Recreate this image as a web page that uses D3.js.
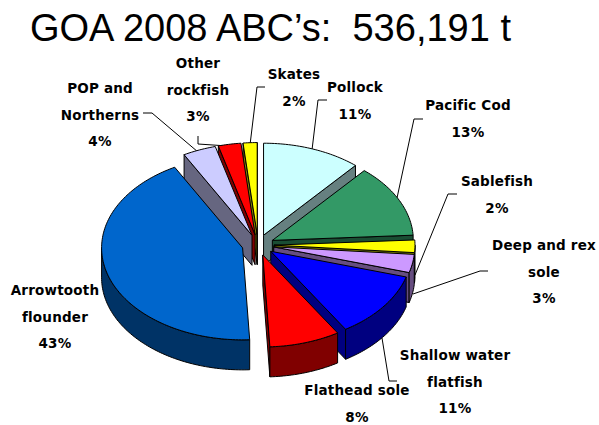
<!DOCTYPE html>
<html>
<head>
<meta charset="utf-8">
<script src="https://cdn.jsdelivr.net/npm/d3@7"></script>
<style>
html, body { margin: 0; padding: 0; background: #fff; overflow: hidden; }
</style>
</head>
<body>
<div id="chart"></div>
<script>
const titleText = "GOA 2008 ABC\u2019s:  536,191 t";
const categories = ["Pollock", "Pacific Cod", "Sablefish", "Deep and rex sole", "Shallow water flatfish",
    "Flathead sole", "Arrowtooth flounder", "POP and Northerns", "Other rockfish", "Skates"];
const shares = [11.3, 12.8, 2.2, 3.2, 11.6, 8.1, 42.8, 3.8, 2.6, 1.6];
const percentLabels = ["11%", "13%", "2%", "3%", "11%", "8%", "43%", "4%", "3%", "2%"];
const labelLines = [["Pollock"], ["Pacific Cod"], ["Sablefish"], ["Deep and rex", "sole"], ["Shallow water", "flatfish"],
    ["Flathead sole"], ["Arrowtooth", "flounder"], ["POP and", "Northerns"], ["Other", "rockfish"], ["Skates"]];

// layout, separate from the values above
const colors = ["#ccffff", "#339966", "#ffff00", "#cc99ff", "#0000ff", "#ff0000", "#0066cc", "#ccccff", "#ff0000", "#ffff00"];
const labelPos = [[355, 92], [468, 110], [497, 186], [544, 250], [455, 360], [357, 395], [55, 295], [100, 93], [198, 68], [294, 79]];
const leaders = [
    [[327, 100], [318, 100], [312, 150]],
    [[423, 119], [414, 119], [397, 198]],
    [[457, 194], [448, 194], [415, 275]],
    [[488, 271], [480, 271], [413, 294]],
    [[397, 381], [389, 381], [382, 338]],
    null,
    null,
    [[143, 113], [152, 113], [198, 152]],
    [[198, 136], [198, 144], [228, 146]],
    [[265, 87], [257, 87], [250, 145]]
];

const width = 599, height = 425;
const cx = 258, cy = 245, rx = 141, ry = 92, depth = 30, explode = 16;
const lineGap = 26.5;

const svg = d3.select("#chart").append("svg")
    .attr("width", width)
    .attr("height", height)
    .style("display", "block");

svg.append("text")
    .attr("x", 30)
    .attr("y", 41)
    .attr("font-family", "'Liberation Sans', Arial, sans-serif")
    .attr("font-size", 38)
    .attr("fill", "#000")
    .style("white-space", "pre")
    .text(titleText);

const line = d3.line();
leaders.filter(d => d).forEach(pts => {
    svg.append("path")
        .attr("d", line(pts))
        .attr("fill", "none")
        .attr("stroke", "#000")
        .attr("stroke-width", 1);
});

const pie = d3.pie().sort(null).value(d => d);
const slices = pie(shares).map((d, i) => {
    const mid = (d.startAngle + d.endAngle) / 2;
    return {
        i,
        mid,
        a0: d.startAngle,
        a1: d.endAngle,
        ox: cx + explode * Math.sin(mid),
        oy: cy - explode * Math.cos(mid) * ry / rx
    };
});

function rim(s, a, dy = 0) {
    return [s.ox + rx * Math.sin(a), s.oy - ry * Math.cos(a) + dy];
}

function arcPoints(s, a0, a1, dy = 0) {
    const n = Math.max(2, Math.ceil((a1 - a0) / 0.02));
    return d3.range(n + 1).map(k => rim(s, a0 + (a1 - a0) * k / n, dy));
}

function halfTone(c) {
    const col = d3.rgb(c);
    return d3.rgb(col.r / 2, col.g / 2, col.b / 2).formatHex();
}

function face(pts, fill) {
    svg.append("path")
        .attr("d", line(pts) + "Z")
        .attr("fill", fill)
        .attr("stroke", "#000")
        .attr("stroke-width", 1)
        .attr("stroke-linejoin", "round");
}

// back to front
slices.slice().sort((a, b) => Math.cos(b.mid) - Math.cos(a.mid)).forEach(s => {
    const top = colors[s.i];
    const wall = halfTone(top);
    const apex = [s.ox, s.oy];
    const apexLow = [s.ox, s.oy + depth];

    if (Math.sin(s.a0) < 0) {
        face([apex, rim(s, s.a0), rim(s, s.a0, depth), apexLow], wall);
    }
    if (Math.sin(s.a1) > 0) {
        face([apex, rim(s, s.a1), rim(s, s.a1, depth), apexLow], wall);
    }
    const f0 = Math.max(s.a0, Math.PI / 2);
    const f1 = Math.min(s.a1, Math.PI * 1.5);
    if (f1 > f0) {
        face(arcPoints(s, f0, f1).concat(arcPoints(s, f0, f1, depth).reverse()), wall);
    }
    face([apex].concat(arcPoints(s, s.a0, s.a1)), top);
});

const labels = svg.append("g")
    .attr("font-family", "'DejaVu Sans', sans-serif")
    .attr("font-size", 13.5)
    .attr("font-weight", "bold")
    .attr("letter-spacing", 0.2)
    .attr("text-anchor", "middle")
    .attr("fill", "#000");

categories.forEach((name, i) => {
    const lines = labelLines[i].concat(percentLabels[i]);
    lines.forEach((t, k) => {
        labels.append("text")
            .attr("x", labelPos[i][0])
            .attr("y", labelPos[i][1] + k * lineGap)
            .text(t);
    });
});
</script>
</body>
</html>
